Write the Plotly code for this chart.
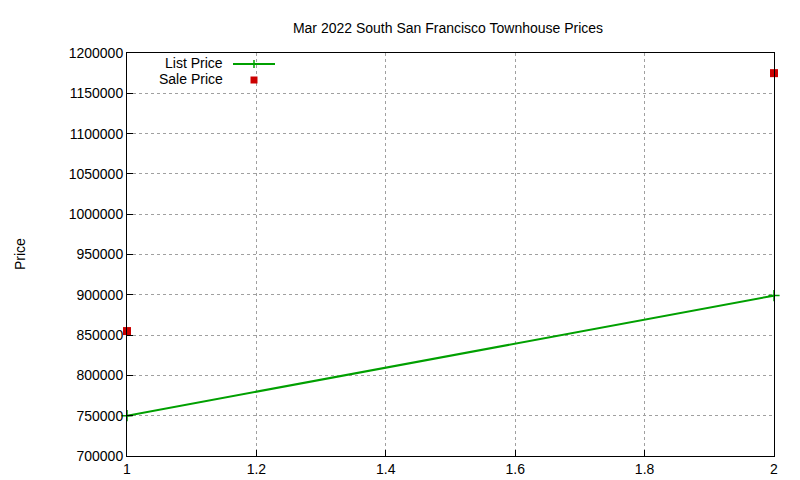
import plotly.graph_objects as go

x_vals = [1, 2]
list_price = [750000, 899000]
sale_price = [855000, 1175000]

fig = go.Figure()
fig.add_trace(go.Scatter(x=x_vals, y=list_price, mode="lines+markers", name="List Price", cliponaxis=False,
                         line=dict(color="#00a000", width=2),
                         marker=dict(symbol="cross-thin", size=8, line=dict(color="#00a000", width=1.5))))
fig.add_trace(go.Scatter(x=x_vals, y=sale_price, mode="markers", name="Sale Price", cliponaxis=False,
                         marker=dict(symbol="square", size=8, color="#cc0000")))

L, R, T, B = 119, 766, 45, 448
def px(xp): return (xp - L) / (R - L)
def py(yp): return (B - yp) / (B - T)

font = dict(family="Liberation Sans, Arial, sans-serif", size=14, color="black")
fig.add_annotation(x=px(217), y=py(55), xref="paper", yref="paper", text="List Price",
                   showarrow=False, xanchor="right", yanchor="middle", font=font)
fig.add_annotation(x=px(217), y=py(71), xref="paper", yref="paper", text="Sale Price",
                   showarrow=False, xanchor="right", yanchor="middle", font=font)
fig.add_annotation(x=px(12), y=py(246), xref="paper", yref="paper", text="Price", textangle=-90,
                   showarrow=False, xanchor="center", yanchor="middle", font=font)
fig.add_shape(type="line", xref="paper", yref="paper", x0=px(225), x1=px(267), y0=py(56), y1=py(56),
              line=dict(color="#00a000", width=2))
fig.add_shape(type="line", xref="paper", yref="paper", x0=px(246), x1=px(246), y0=py(52), y1=py(60),
              line=dict(color="#00a000", width=1.5))
fig.add_shape(type="rect", xref="paper", yref="paper", x0=px(242.5), x1=px(249.5), y0=py(68.5), y1=py(75.5),
              line=dict(width=0), fillcolor="#cc0000")

axis_common = dict(showline=True, mirror=True, linecolor="black", linewidth=1, automargin=False,
                   showgrid=True, gridcolor="#a0a0a0", griddash="dot", gridwidth=1,
                   ticks="inside", ticklen=6, tickcolor="black", zeroline=False,
                   tickfont=font)
fig.update_xaxes(range=[1, 2], dtick=0.2, tickformat="~g", **axis_common)
fig.update_yaxes(range=[700000, 1200000], dtick=50000, tickformat="d", **axis_common)

fig.update_layout(
    width=800, height=480, showlegend=False,
    plot_bgcolor="white", paper_bgcolor="white",
    margin=dict(l=L, r=800 - R, t=T, b=480 - B, autoexpand=False),
    title=dict(text="Mar 2022 South San Francisco Townhouse Prices", x=440 / 800,
               xref="container", xanchor="center", y=1 - 20 / 480, yref="container",
               yanchor="middle", font=font),
    font=font,
)
fig.write_html("out.html")
